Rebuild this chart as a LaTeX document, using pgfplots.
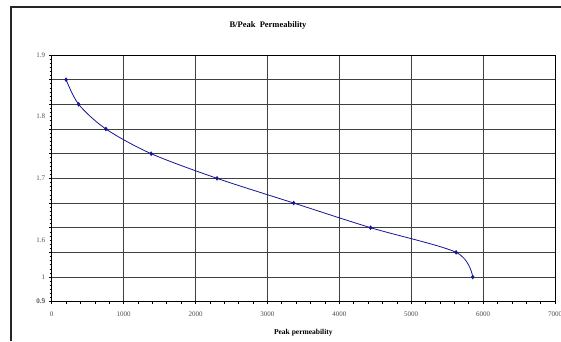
\documentclass[border=0pt]{standalone}
\usepackage{pgfplots}
\pgfplotsset{compat=1.18}
\usepackage{fontspec}
\setmainfont{Liberation Serif}
\definecolor{curve}{RGB}{20,20,150}
\begin{document}
\begin{tikzpicture}[x=1pt,y=1pt]
\useasboundingbox (0,0) rectangle (561,341);
\draw[line width=2pt, black!85] (11,0) -- (11,334) -- (561,334);
\node[font=\bfseries\fontsize{8.5}{10}\selectfont] at (268,316) {B/Peak\ \ Permeability};
\begin{axis}[
  at={(51.7pt,39.3pt)}, anchor=south west,
  scale only axis, width=503.3pt, height=246.7pt,
  xmin=0, xmax=7000, ymin=1.5, ymax=1.9,
  xtick={0,1000,...,7000},
  minor x tick num=4,
  ytick={1.50,1.54,1.58,1.62,1.66,1.70,1.74,1.78,1.82,1.86,1.90},
  yticklabels={},
  minor y tick num=5,
  extra y ticks={1.5,1.5,1.54,1.6,1.7,1.8,1.9},
  extra y tick labels={1.5,0.9,1,1.6,1.7,1.8,1.9},
  extra y tick style={grid=none, major tick length=0pt, yticklabel style={font=\fontsize{7}{8}\selectfont, black!70}},
  xmajorgrids, ymajorgrids,
  grid style={black!75, line width=0.8pt},
  axis line style={black, line width=1pt},
  tick align=outside,
  major tick length=2.5pt, minor tick length=2pt,
  tick style={black, line width=0.6pt},
  xtick pos=bottom, ytick pos=left,
  /pgf/number format/assume math mode=true,
  /pgf/number format/1000 sep={},
  xticklabel style={font=\fontsize{7}{8}\selectfont, black!70, yshift=-4pt},
  yticklabel style={xshift=-3pt},
  xlabel={Peak permeability},
  xlabel style={font=\bfseries\fontsize{7.5}{8}\selectfont, yshift=-6pt},
]
\addplot[curve, line width=0.8pt, smooth, tension=0.5, mark=diamond*, mark size=2pt, mark options={fill=curve, line width=0.4pt}] coordinates {
(200,1.86) (375,1.82) (754,1.78) (1383,1.74) (2300,1.70) (3365,1.66) (4435,1.62) (5625,1.58) (5856,1.54)
};
\end{axis}
\end{tikzpicture}
\end{document}
